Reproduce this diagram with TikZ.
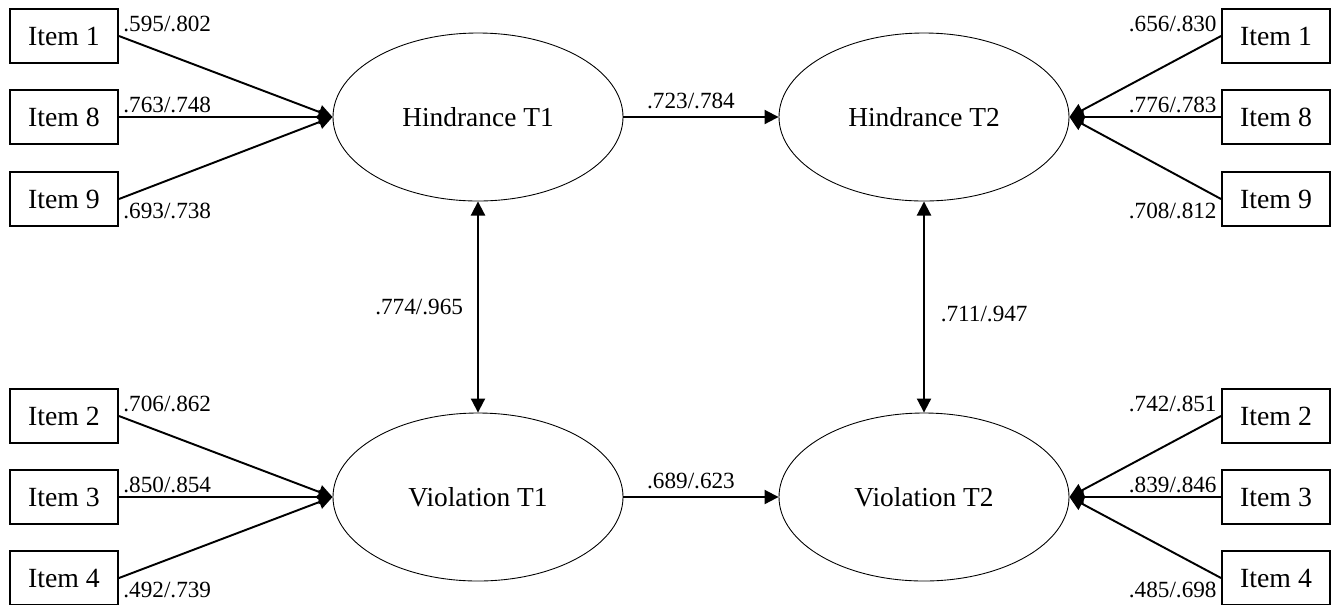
\documentclass[tikz,border=0pt]{standalone}
\usepackage{fontspec}
\setmainfont{Liberation Serif}
\usetikzlibrary{arrows.meta,shapes.geometric}

\begin{document}
\begin{tikzpicture}[->,>={Triangle[length=8pt,width=8pt]},line width=1.1pt]
  \tikzstyle{item}=[rectangle,draw,line width=1.1pt,minimum width=2.16cm,minimum height=1.08cm,inner sep=2pt,font=\fontsize{15.8}{18}\selectfont]
  \tikzstyle{factor}=[ellipse,draw,line width=0.5pt,minimum width=5.8cm,minimum height=3.36cm,font=\fontsize{15.6}{18}\selectfont]
  \tikzstyle{coef}=[font=\fontsize{13.2}{15}\selectfont,inner sep=2pt]

  \useasboundingbox (0,0) rectangle (26.76,-12.08);

  % latent factors
  \node[factor] (hT1) at (9.56,-2.34) {Hindrance T1};
  \node[factor] (hT2) at (18.48,-2.34) {Hindrance T2};
  \node[factor] (vT1) at (9.56,-9.94) {Violation T1};
  \node[factor] (vT2) at (18.48,-9.94) {Violation T2};

  % indicators, time 1
  \node[item] (hT1i1) at (1.28,-0.72) {Item 1};
  \node[item] (hT1i8) at (1.28,-2.34) {Item 8};
  \node[item] (hT1i9) at (1.28,-3.98) {Item 9};
  \node[item] (vT1i2) at (1.28,-8.32) {Item 2};
  \node[item] (vT1i3) at (1.28,-9.94) {Item 3};
  \node[item] (vT1i4) at (1.28,-11.56) {Item 4};

  % indicators, time 2
  \node[item] (hT2i1) at (25.52,-0.72) {Item 1};
  \node[item] (hT2i8) at (25.52,-2.34) {Item 8};
  \node[item] (hT2i9) at (25.52,-3.98) {Item 9};
  \node[item] (vT2i2) at (25.52,-8.32) {Item 2};
  \node[item] (vT2i3) at (25.52,-9.94) {Item 3};
  \node[item] (vT2i4) at (25.52,-11.56) {Item 4};

  \path (hT1i1.east) edge node[coef,pos=0,anchor=south west] {.595/.802} (hT1.west);
  \path (hT1i8.east) edge node[coef,pos=0,anchor=south west] {.763/.748} (hT1.west);
  \path (hT1i9.east) edge node[coef,pos=0,anchor=north west] {.693/.738} (hT1.west);
  \path (vT1i2.east) edge node[coef,pos=0,anchor=south west] {.706/.862} (vT1.west);
  \path (vT1i3.east) edge node[coef,pos=0,anchor=south west] {.850/.854} (vT1.west);
  \path (vT1i4.east) edge node[coef,pos=0,anchor=north west] {.492/.739} (vT1.west);

  \path (hT2i1.west) edge node[coef,pos=0,anchor=south east] {.656/.830} (hT2.east);
  \path (hT2i8.west) edge node[coef,pos=0,anchor=south east] {.776/.783} (hT2.east);
  \path (hT2i9.west) edge node[coef,pos=0,anchor=north east] {.708/.812} (hT2.east);
  \path (vT2i2.west) edge node[coef,pos=0,anchor=south east] {.742/.851} (vT2.east);
  \path (vT2i3.west) edge node[coef,pos=0,anchor=south east] {.839/.846} (vT2.east);
  \path (vT2i4.west) edge node[coef,pos=0,anchor=north east] {.485/.698} (vT2.east);

  % stability and correlations
  \path (hT1.east) edge node[coef,above=2pt,xshift=-0.2cm] {.723/.784} (hT2.west);
  \path (vT1.east) edge node[coef,above=2pt,xshift=-0.2cm] {.689/.623} (vT2.west);
  \path (hT1.south) edge[<->] node[coef,left=6pt] {.774/.965} (vT1.north);
  \path (hT2.south) edge[<->] node[coef,right=7pt,yshift=-0.14cm] {.711/.947} (vT2.north);
\end{tikzpicture}
\end{document}
